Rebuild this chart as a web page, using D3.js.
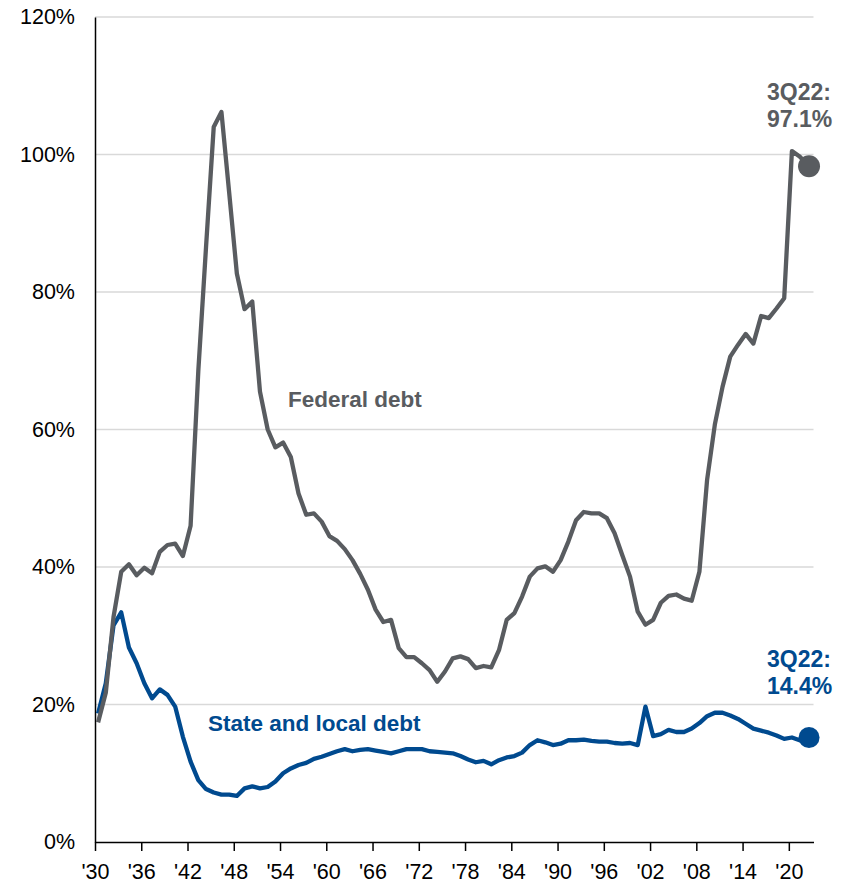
<!DOCTYPE html>
<html>
<head>
<meta charset="utf-8">
<script src="https://cdn.jsdelivr.net/npm/d3@7"></script>
<style>
  html, body { margin: 0; padding: 0; background: #fff; }
  svg { display: block; }
  text { font-family: Arial, "Liberation Sans", sans-serif; }
</style>
</head>
<body>
<svg id="chart" width="852" height="887"></svg>
<script>
// ---- Data ----
const years = d3.range(1930, 2022); // annual observations 1930..2021
const federalDebt = [
  17.4, 21.7, 32.7, 39.3, 40.4, 38.8, 39.9, 39.1, 42.2, 43.2,   // 1930-39
  43.4, 41.6, 46.0, 68.5, 86.5, 104.0, 106.2, 94.5, 82.7, 77.5, // 1940-49
  78.6, 65.5, 60.0, 57.4, 58.1, 56.0, 50.7, 47.6, 47.8, 46.6,   // 1950-59
  44.5, 43.8, 42.6, 41.0, 39.0, 36.7, 33.8, 32.0, 32.3, 28.2,   // 1960-69
  26.9, 26.9, 26.0, 25.0, 23.3, 24.8, 26.7, 27.0, 26.6, 25.3,   // 1970-79
  25.6, 25.4, 27.9, 32.3, 33.3, 35.7, 38.6, 39.8, 40.1, 39.3,   // 1980-89
  41.0, 43.7, 46.8, 48.0, 47.8, 47.8, 47.1, 44.9, 41.7, 38.6,   // 1990-99
  33.5, 31.6, 32.3, 34.8, 35.8, 36.0, 35.4, 35.1, 39.3, 52.7,   // 2000-09
  60.7, 66.2, 70.6, 72.3, 73.9, 72.5, 76.5, 76.2, 77.6, 79.1,   // 2010-19
  100.5, 99.7                                                    // 2020-21
];
const stateLocalDebt = [
  18.7, 23.1, 31.5, 33.4, 28.3, 26.0, 23.1, 20.9, 22.2, 21.4,   // 1930-39
  19.7, 15.3, 11.7, 9.0, 7.7, 7.2, 6.9, 6.9, 6.7, 7.8,          // 1940-49
  8.1, 7.8, 8.0, 8.8, 10.0, 10.7, 11.2, 11.5, 12.1, 12.4,       // 1950-59
  12.8, 13.2, 13.5, 13.2, 13.4, 13.5, 13.3, 13.1, 12.9, 13.2,   // 1960-69
  13.5, 13.5, 13.5, 13.2, 13.1, 13.0, 12.9, 12.5, 12.0, 11.6,   // 1970-79
  11.8, 11.3, 11.9, 12.3, 12.5, 13.0, 14.1, 14.8, 14.5, 14.1,   // 1980-89
  14.3, 14.8, 14.8, 14.9, 14.7, 14.6, 14.6, 14.4, 14.3, 14.4,   // 1990-99
  14.1, 19.7, 15.4, 15.7, 16.3, 16.0, 16.0, 16.5, 17.3, 18.3,   // 2000-09
  18.8, 18.8, 18.4, 17.9, 17.2, 16.5, 16.2, 15.9, 15.5, 15.0,   // 2010-19
  15.2, 14.8                                                     // 2020-21
];
// latest quarterly point (3Q22)
const latestLabel = "3Q22";
const latestTime = 2022.62;
const federalLatest = 98.3;
const stateLocalLatest = 15.2;
const federalLatestText = "97.1%";
const stateLocalLatestText = "14.4%";

const xTickYears = [1930, 1936, 1942, 1948, 1954, 1960, 1966, 1972, 1978, 1984, 1990, 1996, 2002, 2008, 2014, 2020];
const yTicks = [0, 20, 40, 60, 80, 100, 120];

// ---- Layout ----
const GRAY = "#595c60";
const BLUE = "#004a8f";
const plotLeft = 95, plotRight = 813.5, plotTop = 17, plotBottom = 842;
const obsOffset = 0.4; // annual observations plotted within the year

const svg = d3.select("#chart");
const x = d3.scaleLinear().domain([1930, 2023.2]).range([plotLeft, plotRight]);
const y = d3.scaleLinear().domain([0, 120]).range([plotBottom, plotTop]);

// gridlines
svg.append("g").selectAll("line").data(yTicks.filter(d => d > 0)).join("line")
  .attr("x1", plotLeft).attr("x2", plotRight)
  .attr("y1", d => y(d)).attr("y2", d => y(d))
  .attr("stroke", "#d9d9d9").attr("stroke-width", 1.3);

// y axis
const yAxis = d3.axisLeft(y).tickValues(yTicks).tickFormat(d => d + "%").tickSize(0).tickPadding(20);
const gy = svg.append("g").attr("transform", `translate(${plotLeft},0)`).call(yAxis);
gy.select(".domain").attr("stroke", "#000").attr("stroke-width", 1.5);
gy.selectAll("text").attr("font-size", 21.5).attr("fill", "#000")
  .attr("font-family", "Arial, 'Liberation Sans', sans-serif");

// x axis
const xAxis = d3.axisBottom(x).tickValues(xTickYears)
  .tickFormat(d => "'" + String(d).slice(2)).tickSize(9).tickSizeOuter(0).tickPadding(13);
const gx = svg.append("g").attr("transform", `translate(0,${plotBottom})`).call(xAxis);
gx.select(".domain").attr("stroke", "#000").attr("stroke-width", 1.5);
gx.selectAll(".tick line").attr("stroke", "#000").attr("stroke-width", 1.5);
gx.selectAll("text").attr("font-size", 21.5).attr("fill", "#000")
  .attr("font-family", "Arial, 'Liberation Sans', sans-serif");

// series
function seriesPoints(vals, latest) {
  const pts = years.map((yr, i) => [yr + obsOffset, vals[i]]);
  pts.push([latestTime, latest]);
  return pts;
}
const line = d3.line().x(d => x(d[0])).y(d => y(d[1]));

svg.append("path").datum(seriesPoints(stateLocalDebt, stateLocalLatest))
  .attr("d", line).attr("fill", "none").attr("stroke", BLUE)
  .attr("stroke-width", 4.3).attr("stroke-linejoin", "round");
svg.append("path").datum(seriesPoints(federalDebt, federalLatest))
  .attr("d", line).attr("fill", "none").attr("stroke", GRAY)
  .attr("stroke-width", 4.3).attr("stroke-linejoin", "round");

svg.append("circle").attr("cx", x(latestTime)).attr("cy", y(federalLatest))
  .attr("r", 11).attr("fill", GRAY);
svg.append("circle").attr("cx", x(latestTime)).attr("cy", y(stateLocalLatest))
  .attr("r", 10.5).attr("fill", BLUE);

// labels
svg.append("text").attr("x", 288).attr("y", 407).attr("font-size", 22.5)
  .attr("font-weight", "bold").attr("fill", GRAY).text("Federal debt");
svg.append("text").attr("x", 208).attr("y", 731).attr("font-size", 22.5)
  .attr("font-weight", "bold").attr("fill", BLUE).text("State and local debt");

const fed = svg.append("text").attr("x", 767).attr("font-size", 23)
  .attr("font-weight", "bold").attr("fill", GRAY);
fed.append("tspan").attr("x", 767).attr("y", 100).text(latestLabel + ":");
fed.append("tspan").attr("x", 767).attr("y", 127).text(federalLatestText);

const sl = svg.append("text").attr("x", 767).attr("font-size", 23)
  .attr("font-weight", "bold").attr("fill", BLUE);
sl.append("tspan").attr("x", 767).attr("y", 667).text(latestLabel + ":");
sl.append("tspan").attr("x", 767).attr("y", 694).text(stateLocalLatestText);
</script>
</body>
</html>
